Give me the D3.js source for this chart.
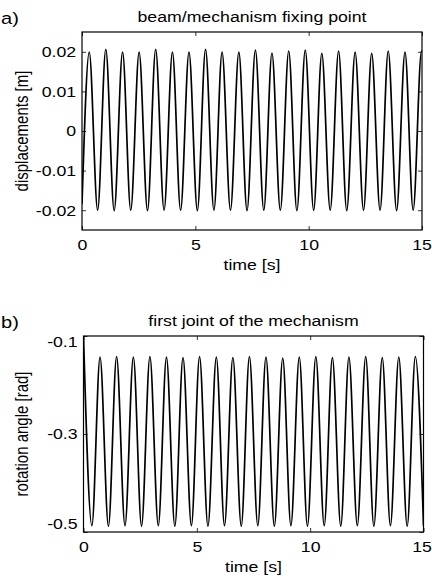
<!DOCTYPE html>
<html>
<head>
<meta charset="utf-8">
<script src="https://cdn.jsdelivr.net/npm/d3@7"></script>
<style>
  body { margin: 0; background: #fff; }
  text { font-family: "Liberation Sans", Arial, sans-serif; fill: #000; }
</style>
</head>
<body>
<script>
// extrema (time [s], value)
const dispTime = [0, 0.32, 0.69, 1.05, 1.42, 1.79, 2.15, 2.52, 2.89, 3.25, 3.62, 3.99, 4.35, 4.72, 5.09, 5.45,
  5.82, 6.18, 6.55, 6.92, 7.28, 7.65, 8.02, 8.38, 8.75, 9.12, 9.48, 9.85, 10.22, 10.58, 10.95, 11.32,
  11.68, 12.05, 12.42, 12.78, 13.15, 13.51, 13.88, 14.25, 14.61, 14.98, 15.0];
const dispValue = [-0.0185, 0.0199, -0.0200, 0.0206, -0.0201, 0.0199, -0.0200, 0.0199, -0.0201, 0.0206, -0.0200,
  0.0199, -0.0200, 0.0199, -0.0201, 0.0206, -0.0200, 0.0199, -0.0200, 0.0199, -0.0201, 0.0204, -0.0200,
  0.0197, -0.0200, 0.0202, -0.0201, 0.0204, -0.0200, 0.0196, -0.0200, 0.0202, -0.0201, 0.0199, -0.0200,
  0.0196, -0.0200, 0.0202, -0.0201, 0.0199, -0.0200, 0.0202, 0.0200];

const rotTime = [0, 0.37, 0.73, 1.10, 1.46, 1.83, 2.20, 2.56, 2.93, 3.30, 3.66, 4.03, 4.39, 4.76, 5.12, 5.49,
  5.86, 6.22, 6.59, 6.96, 7.32, 7.69, 8.05, 8.42, 8.79, 9.15, 9.52, 9.88, 10.25, 10.62, 10.98, 11.35,
  11.71, 12.08, 12.45, 12.81, 13.18, 13.54, 13.91, 14.28, 14.64, 15.0];
const rotValue = [-0.100, -0.487, -0.143, -0.488, -0.142, -0.487, -0.143, -0.488, -0.142, -0.487, -0.143,
  -0.488, -0.144, -0.487, -0.142, -0.488, -0.143, -0.487, -0.144, -0.488, -0.142, -0.487, -0.143, -0.488,
  -0.145, -0.487, -0.143, -0.488, -0.142, -0.487, -0.144, -0.488, -0.143, -0.487, -0.142, -0.488, -0.144,
  -0.487, -0.143, -0.488, -0.142, -0.487];

const timeTicks = [0, 5, 10, 15];
const dispTicks = [-0.02, -0.01, 0, 0.01, 0.02];
const dispTickLabels = ['-0.02', '-0.01', '0', '0.01', '0.02'];
const rotTicks = [-0.5, -0.3, -0.1];
const rotTickLabels = ['-0.5', '-0.3', '-0.1'];

const W = 432, H = 581;
const SX = 1.18; // the picture is stretched sideways
const svg = d3.select('body').append('svg').attr('width', W).attr('height', H);

function wideText(g, x, y, size, str, anchor) {
  return g.append('text')
    .attr('transform', 'translate(' + x + ',' + y + ') scale(' + SX + ',1)')
    .attr('text-anchor', anchor || 'middle')
    .style('font-size', size + 'px')
    .text(str);
}

function drawPanel(p) {
  const x = d3.scaleLinear().domain([0, 15]).range([p.left, p.right]);
  const y = d3.scaleLinear().domain(p.domain).range([p.bottom, p.top]);
  const g = svg.append('g');

  // clip for the curve
  g.append('clipPath').attr('id', 'clip-' + p.id)
    .append('rect')
    .attr('x', p.left).attr('y', p.top)
    .attr('width', p.right - p.left).attr('height', p.bottom - p.top);

  const pts = p.time.map((t, i) => [t, p.value[i]]);
  const line = d3.line()
    .x(d => x(d[0]))
    .y(d => y(d[1]))
    .curve(d3.curveMonotoneX);

  g.append('path')
    .attr('clip-path', 'url(#clip-' + p.id + ')')
    .attr('d', line(pts))
    .attr('fill', 'none')
    .attr('stroke', '#000')
    .attr('stroke-width', 1.7)
    .attr('stroke-linejoin', 'round');

  // inward ticks on all four sides (matlab style)
  const tk = 4;
  const xa = g.append('g').attr('transform', 'translate(0,' + p.bottom + ')')
    .call(d3.axisBottom(x).tickValues(timeTicks).tickSize(-tk).tickPadding(9).tickFormat(d3.format('d')));
  g.append('g').attr('transform', 'translate(0,' + p.top + ')')
    .call(d3.axisTop(x).tickValues(timeTicks).tickSize(-tk).tickFormat(''));
  const yl = g.append('g').attr('transform', 'translate(' + p.left + ',0)')
    .call(d3.axisLeft(y).tickValues(p.ticks).tickSize(-tk).tickPadding(5)
      .tickFormat((d, i) => p.tickLabels[i]));
  g.append('g').attr('transform', 'translate(' + p.right + ',0)')
    .call(d3.axisRight(y).tickValues(p.ticks).tickSize(-tk).tickFormat(''));

  g.selectAll('.domain').remove();
  g.selectAll('.tick line').attr('stroke', '#000').attr('stroke-width', 0.8);
  g.selectAll('.tick text').style('font-size', '15px').attr('font-family', null)
    .attr('transform', 'scale(' + SX + ',1)');
  // keep the last time label inside the page
  xa.selectAll('.tick text').filter(d => d === 15).attr('x', (421.5 - p.right) / SX);

  if (p.labelShift) {
    yl.selectAll('.tick text').attr('dy', (d, i) => (0.32 + (p.labelShift[i] || 0)) + 'em');
  }

  // frame
  g.append('rect')
    .attr('x', p.left).attr('y', p.top)
    .attr('width', p.right - p.left).attr('height', p.bottom - p.top)
    .attr('fill', 'none').attr('stroke', '#000').attr('stroke-width', 1.2);

  // titles and labels
  wideText(g, (p.left + p.right) / 2, p.top - 10, 15, p.title);
  wideText(g, 1, p.top - 8, 17, p.tag, 'start');
  wideText(g, (p.left + p.right) / 2, p.bottom + 40, 15, 'time [s]');
  g.append('text')
    .attr('transform', 'translate(28,' + (p.top + p.bottom) / 2 + ') rotate(-90) scale(1,' + SX + ')')
    .attr('text-anchor', 'middle').style('font-size', '15px').text(p.ylabel);
}

drawPanel({
  id: 'a', left: 82, right: 422, top: 32, bottom: 230,
  domain: [-0.025, 0.025], ticks: dispTicks, tickLabels: dispTickLabels,
  time: dispTime, value: dispValue,
  title: 'beam/mechanism fixing point', tag: 'a)', ylabel: 'displacements [m]'
});

drawPanel({
  id: 'b', left: 83.5, right: 423.5, top: 336, bottom: 532,
  domain: [-0.5, -0.1], ticks: rotTicks, tickLabels: rotTickLabels,
  time: rotTime, value: rotValue, labelShift: [-0.55, 0, 0.35],
  title: 'first joint of the mechanism', tag: 'b)', ylabel: 'rotation angle [rad]'
});
</script>
</body>
</html>
